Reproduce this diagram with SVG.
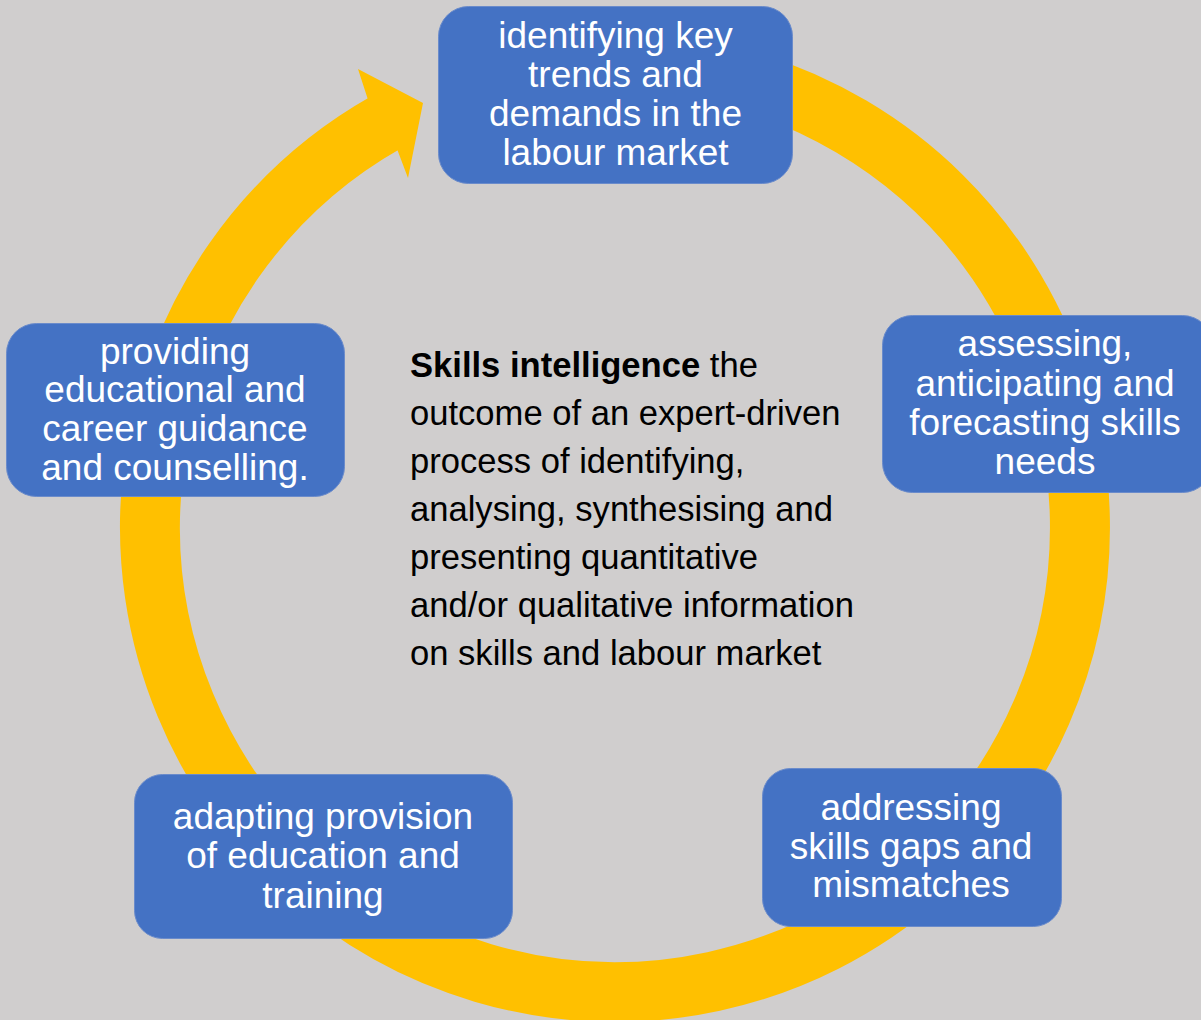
<svg xmlns="http://www.w3.org/2000/svg" width="1201" height="1020" viewBox="0 0 1201 1020">
  <defs>
    <style>
      .box { fill: #4472C4; stroke: #6A8BCB; stroke-width: 1; }
      .lbl { font-family: "Liberation Sans", Arial, sans-serif; font-size: 37px; fill: #FFFFFF; text-anchor: middle; }
      .body { font-family: "Liberation Sans", Arial, sans-serif; font-size: 34.6px; fill: #000000; }
      .ring { fill: none; stroke: #FFC000; stroke-width: 60; }
      .head { fill: #FFC000; }
    </style>
  </defs>
  <rect x="0" y="0" width="1201" height="1020" fill="#D0CECE"/>

  <g id="connectors">
    <path class="ring" d="M 655.5 63.8 A 465 465 0 1 1 386.0 122.3"/>
    <polygon class="head" points="367.5,98.3 358,69 423,103 408,178 397.5,150.3"/>
  </g>

  <g id="node-identifying">
    <rect class="box" x="438.5" y="6.5" width="354" height="177" rx="30" ry="30"/>
    <text class="lbl"><tspan x="615.5" y="48">identifying key</tspan><tspan x="615.5" y="87">trends and</tspan><tspan x="615.5" y="126">demands in the</tspan><tspan x="615.5" y="165">labour market</tspan></text>
  </g>

  <g id="node-assessing">
    <rect class="box" x="882.5" y="315.5" width="330" height="177" rx="30" ry="30"/>
    <text class="lbl"><tspan x="1045" y="356">assessing,</tspan><tspan x="1045" y="396">anticipating and</tspan><tspan x="1045" y="435">forecasting skills</tspan><tspan x="1045" y="474">needs</tspan></text>
  </g>

  <g id="node-addressing">
    <rect class="box" x="762.5" y="768.5" width="299" height="158" rx="28" ry="28"/>
    <text class="lbl"><tspan x="911" y="820">addressing</tspan><tspan x="911" y="859">skills gaps and</tspan><tspan x="911" y="897">mismatches</tspan></text>
  </g>

  <g id="node-adapting">
    <rect class="box" x="134.5" y="774.5" width="378" height="164" rx="28" ry="28"/>
    <text class="lbl"><tspan x="323" y="829">adapting provision</tspan><tspan x="323" y="868">of education and</tspan><tspan x="323" y="908">training</tspan></text>
  </g>

  <g id="node-providing">
    <rect class="box" x="6.5" y="323.5" width="338" height="173" rx="30" ry="30"/>
    <text class="lbl"><tspan x="175" y="364">providing</tspan><tspan x="175" y="402">educational and</tspan><tspan x="175" y="441">career guidance</tspan><tspan x="175" y="480">and counselling.</tspan></text>
  </g>

  <g id="center-text">
    <text class="body"><tspan x="410" y="377"><tspan font-weight="bold">Skills intelligence</tspan> the</tspan><tspan x="410" y="425">outcome of an expert-driven</tspan><tspan x="410" y="473">process of identifying,</tspan><tspan x="410" y="521">analysing, synthesising and</tspan><tspan x="410" y="569">presenting quantitative</tspan><tspan x="410" y="617">and/or qualitative information</tspan><tspan x="410" y="665">on skills and labour market</tspan></text>
  </g>
</svg>
